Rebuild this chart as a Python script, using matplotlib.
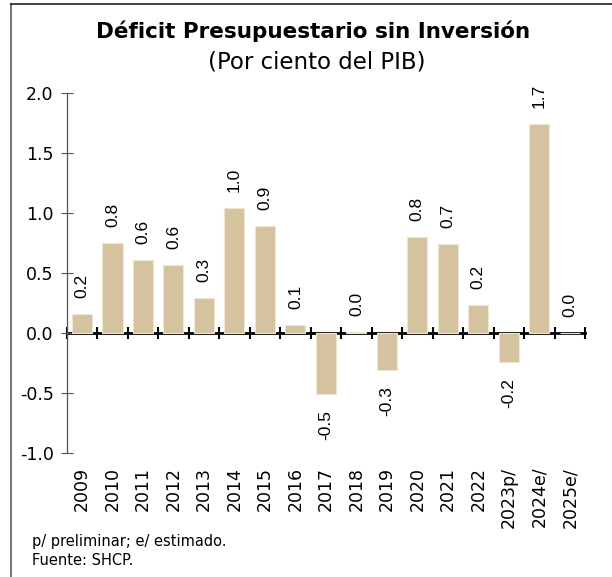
import matplotlib
matplotlib.use("Agg")
import matplotlib.pyplot as plt
from matplotlib.lines import Line2D
import numpy as np

years = ["2009", "2010", "2011", "2012", "2013", "2014", "2015", "2016", "2017",
         "2018", "2019", "2020", "2021", "2022", "2023p/", "2024e/", "2025e/"]
deficit = [0.16, 0.75, 0.61, 0.57, 0.29, 1.04, 0.89, 0.07, -0.51,
           0.01, -0.31, 0.80, 0.74, 0.23, -0.24, 1.74, 0.0]
yticks = [-1.0, -0.5, 0.0, 0.5, 1.0, 1.5, 2.0]

bar_color = "#D5C29E"

fig = plt.figure(figsize=(6.12, 5.77), dpi=100)
ax = fig.add_axes([0.109, 0.215, 0.847, 0.624])

x = np.arange(len(years))
ax.bar(x, deficit, width=0.66, color=bar_color, edgecolor="#EFE6D2", linewidth=0.8, zorder=2)

for xi, v in zip(x, deficit):
    if v < 0:
        ax.annotate(f"{v:.1f}", (xi, v), xytext=(0, -11.5), textcoords="offset points",
                    rotation=90, ha="center", va="top", fontsize=12.5,
                    family="Liberation Sans")
    else:
        ax.annotate(f"{v:.1f}", (xi, v), xytext=(0, 11.5), textcoords="offset points",
                    rotation=90, ha="center", va="bottom", fontsize=12.5,
                    family="Liberation Sans")

ax.set_xlim(-0.5, len(years) - 0.5)
ax.set_ylim(-1.0, 2.0)
ax.set_yticks(yticks)
ax.set_yticklabels([f"{t:.1f}" for t in yticks], fontsize=12.5)
ax.tick_params(axis="y", direction="inout", length=9, width=0.8, color="#555555", pad=5)

ax.set_xticks(x)
ax.set_xticklabels(years, rotation=90, fontsize=12.5)
ax.tick_params(axis="x", length=0, pad=10)

for s in ["top", "right", "bottom"]:
    ax.spines[s].set_visible(False)
ax.spines["left"].set_color("#555555")
ax.spines["left"].set_linewidth(0.9)

# zero line with category separators
zero_ax = ax.secondary_xaxis(1 / 3)
zero_ax.set_xticks(np.arange(len(years) + 1) - 0.5)
zero_ax.set_xticklabels([])
zero_ax.tick_params(direction="inout", length=8, width=1.5, color="black")
zero_ax.spines["bottom"].set_linewidth(2)
zero_ax.spines["bottom"].set_color("black")

fig.text(0.512, 0.945, "Déficit Presupuestario sin Inversión", ha="center", va="center",
         fontsize=15.5, fontweight="bold")
fig.text(0.517, 0.892, "(Por ciento del PIB)", ha="center", va="center", fontsize=16.5)

fig.text(0.052, 0.062, "p/ preliminar; e/ estimado.", ha="left", va="center", fontsize=10.5)
fig.text(0.052, 0.028, "Fuente: SHCP.", ha="left", va="center", fontsize=10.5)

# frame around the figure (left and top edges)
fig.add_artist(Line2D([0.018, 0.018], [0.0, 0.993], transform=fig.transFigure,
                      color="#777777", linewidth=1.5))
fig.add_artist(Line2D([0.018, 1.0], [0.993, 0.993], transform=fig.transFigure,
                      color="#222222", linewidth=1.2))

fig.savefig("out.png", dpi=100)
